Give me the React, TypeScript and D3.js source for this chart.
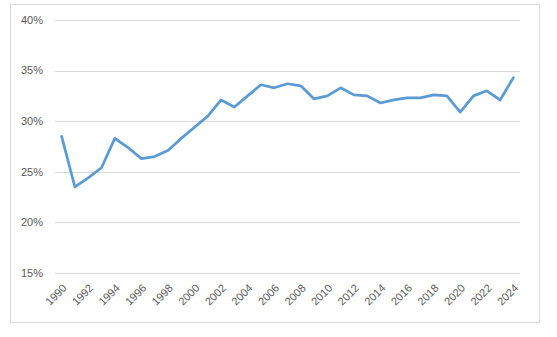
import React, { useEffect, useRef } from "react";
import * as d3 from "d3";

const years = d3.range(1990, 2025);
const shares = [
  28.5, 23.5, 24.4, 25.4, 28.3, 27.4, 26.3, 26.5, 27.1, 28.3, 29.4, 30.5,
  32.1, 31.4, 32.5, 33.6, 33.3, 33.7, 33.5, 32.2, 32.5, 33.3, 32.6, 32.5,
  31.8, 32.1, 32.3, 32.3, 32.6, 32.5, 30.9, 32.5, 33.0, 32.1, 34.3,
];
const yTicks = [15, 20, 25, 30, 35, 40];
const xLabels = years.filter((y) => y % 2 === 0);

const App = () => {
  const ref = useRef<SVGSVGElement>(null);

  useEffect(() => {
    const svg = d3.select(ref.current);
    svg.selectAll("*").remove();

    const width = 557;
    const height = 337;
    const margin = { top: 20, right: 37, bottom: 64, left: 55 };
    const font = "'Liberation Sans', Arial, sans-serif";

    svg.attr("width", width).attr("height", height);

    // chart area border
    svg
      .append("rect")
      .attr("x", 10.5)
      .attr("y", 4.5)
      .attr("width", 529)
      .attr("height", 318)
      .attr("fill", "#fff")
      .attr("stroke", "#d9d9d9");

    const x = d3
      .scaleBand<number>()
      .domain(years)
      .range([margin.left, width - margin.right]);

    const y = d3
      .scaleLinear()
      .domain([15, 40])
      .range([height - margin.bottom, margin.top]);

    const cx = (d: number) => (x(d) as number) + x.bandwidth() / 2;

    // gridlines
    svg
      .append("g")
      .selectAll("line")
      .data(yTicks)
      .join("line")
      .attr("x1", margin.left)
      .attr("x2", width - margin.right)
      .attr("y1", (d) => Math.round(y(d)) + 0.5)
      .attr("y2", (d) => Math.round(y(d)) + 0.5)
      .attr("stroke", "#d9d9d9")
      .attr("stroke-width", 1);

    svg
      .append("g")
      .selectAll("text")
      .data(yTicks)
      .join("text")
      .attr("x", 43)
      .attr("y", (d) => y(d))
      .attr("dy", "0.35em")
      .attr("text-anchor", "end")
      .attr("font-family", font)
      .attr("font-size", 11)
      .attr("fill", "#595959")
      .text((d) => `${d}%`);

    svg
      .append("g")
      .selectAll("text")
      .data(xLabels)
      .join("text")
      .attr(
        "transform",
        (d) => `translate(${cx(d) + 3},${height - margin.bottom + 13}) rotate(-45)`
      )
      .attr("dy", "0.35em")
      .attr("text-anchor", "end")
      .attr("font-family", font)
      .attr("font-size", 11)
      .attr("fill", "#595959")
      .text((d) => d);

    const line = d3
      .line<number>()
      .x((_, i) => cx(years[i]))
      .y((d) => y(d));

    svg
      .append("path")
      .datum(shares)
      .attr("d", line)
      .attr("fill", "none")
      .attr("stroke", "#5b9bd5")
      .attr("stroke-width", 2.75)
      .attr("stroke-linejoin", "round")
      .attr("stroke-linecap", "round");
  }, []);

  return (
    <svg
      ref={ref}
      style={{ position: "absolute", left: 0, top: 0, display: "block" }}
    ></svg>
  );
};

export default App;
